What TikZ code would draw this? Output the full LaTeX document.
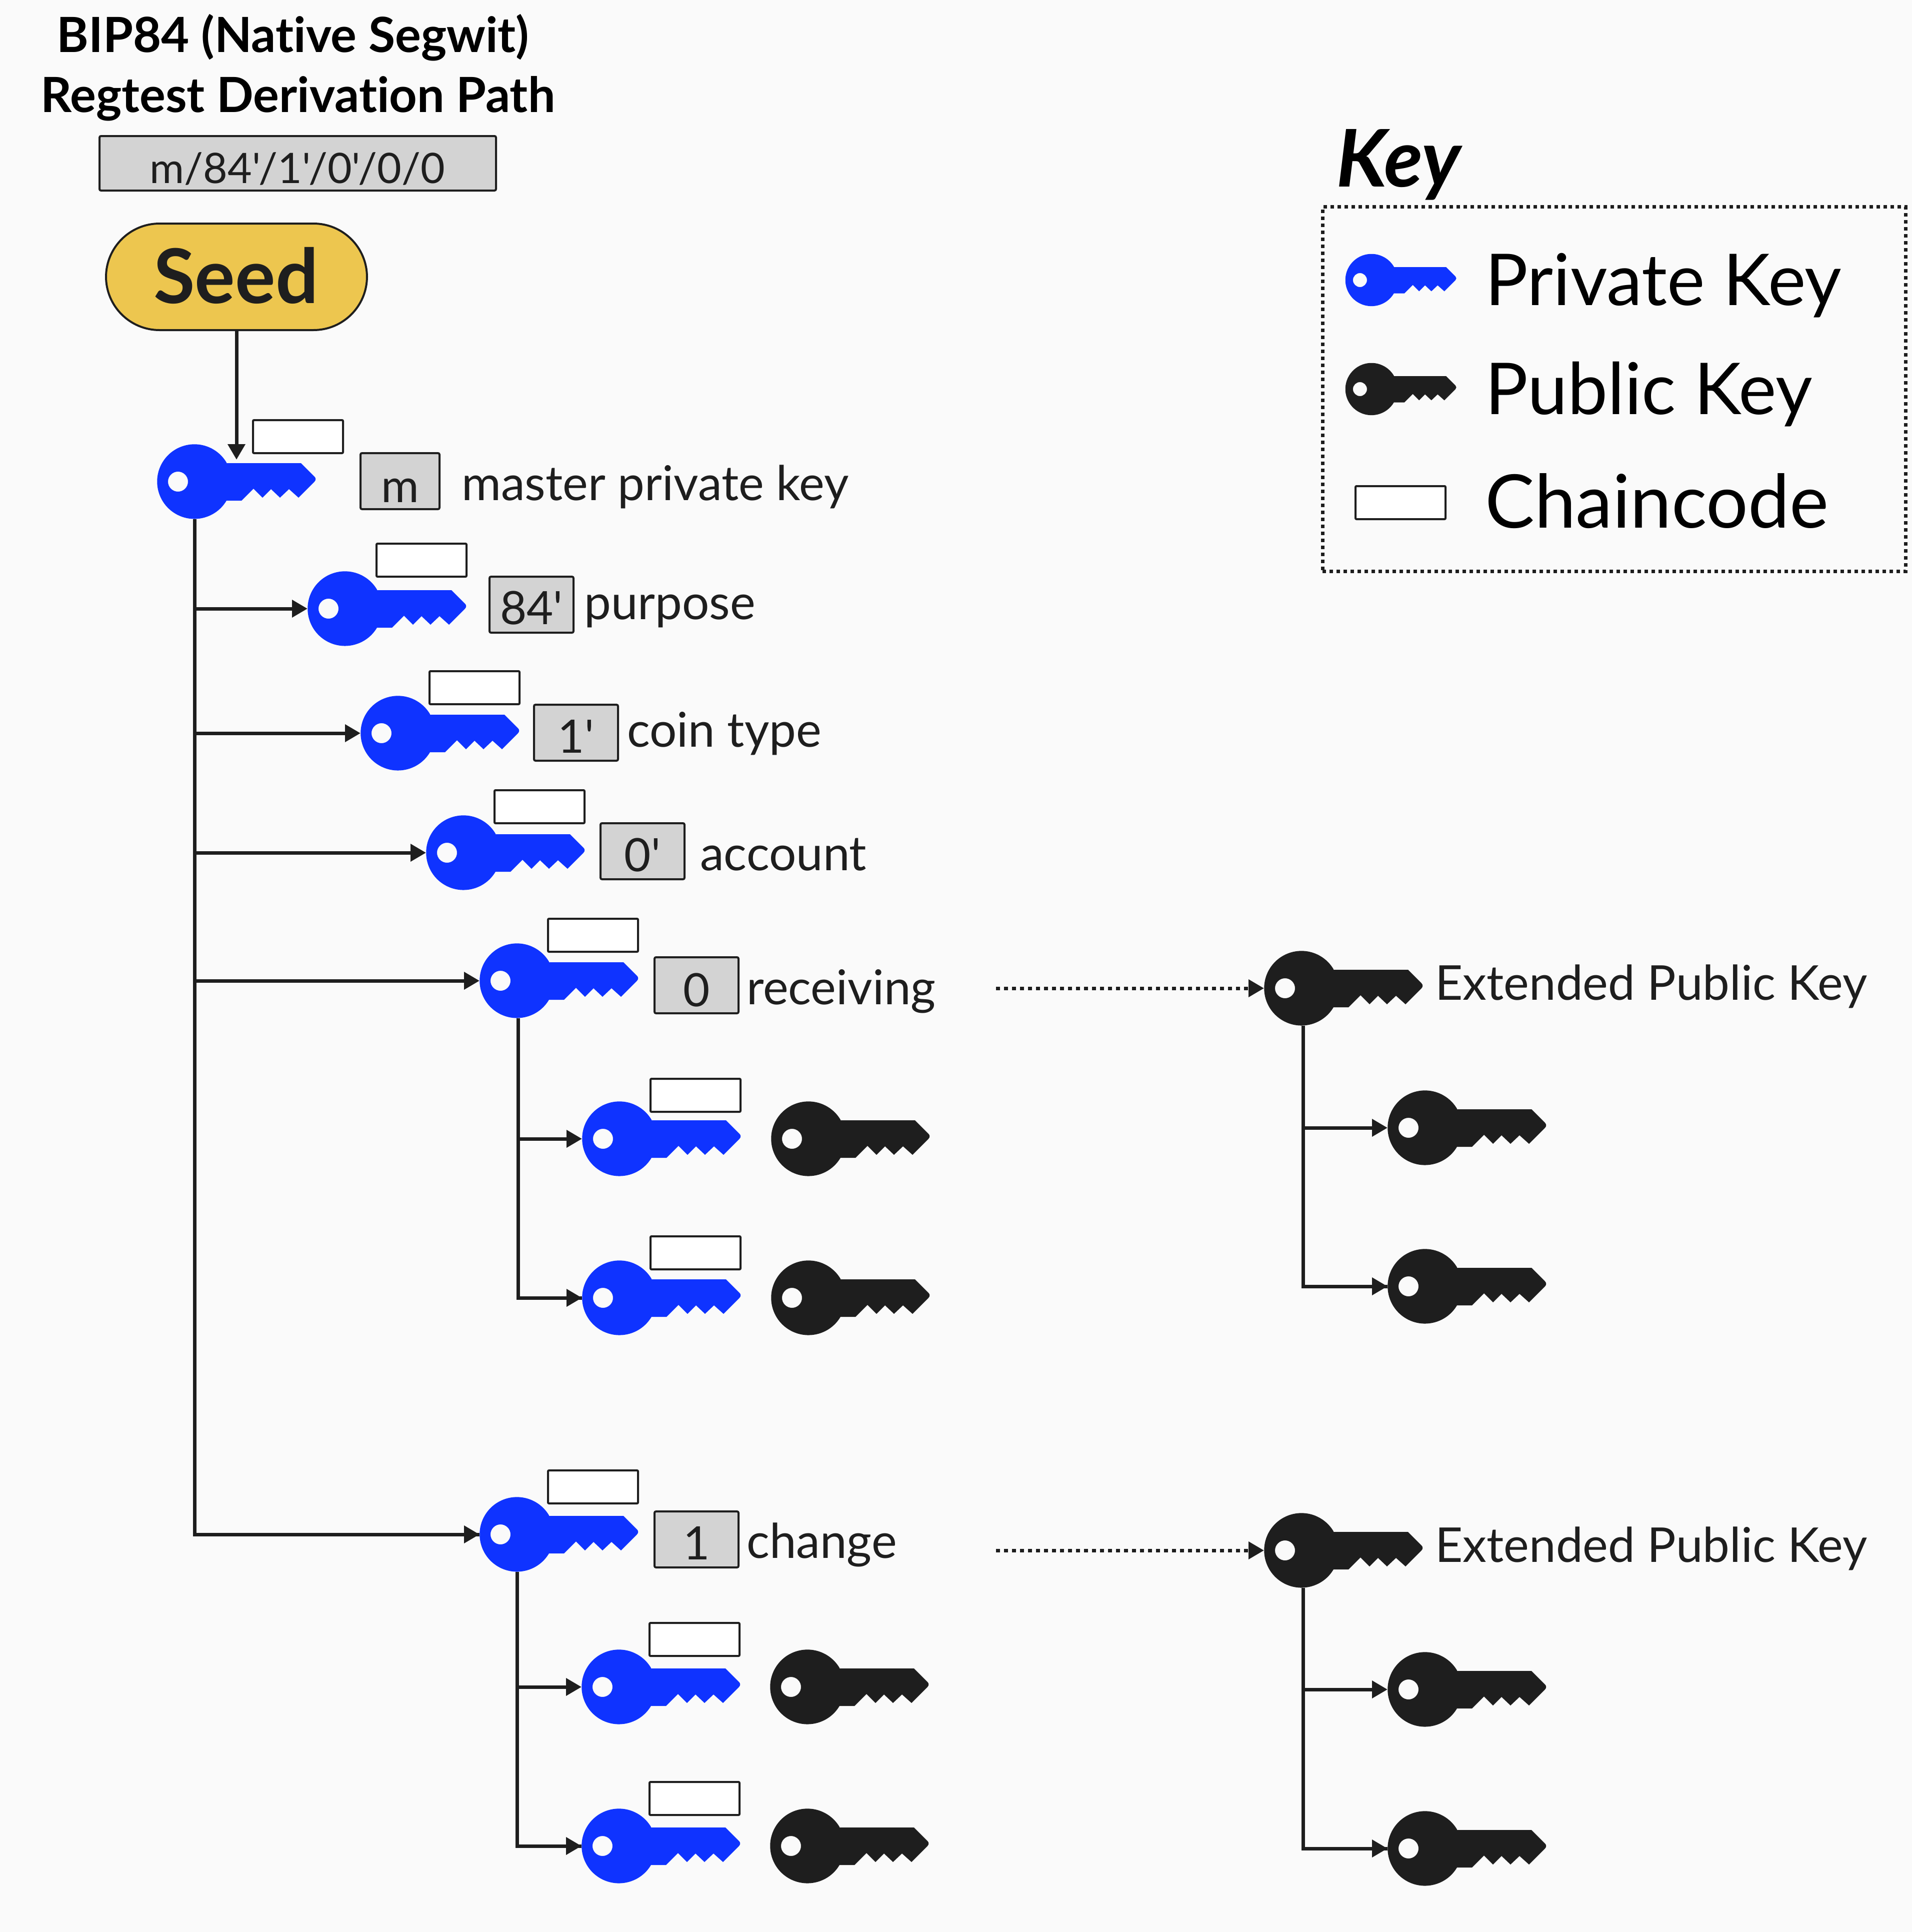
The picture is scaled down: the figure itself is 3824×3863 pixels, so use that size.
\documentclass[tikz,border=0pt]{standalone}
\usepackage{fontspec}
\setmainfont{Lato}[Ligatures={NoCommon,TeXOff}]
\usetikzlibrary{arrows.meta}
\definecolor{bgc}{HTML}{FAFAFA}
\definecolor{ink}{HTML}{1E1E1E}
\definecolor{privc}{HTML}{0F33FF}
\definecolor{grayc}{HTML}{D3D3D3}
\definecolor{seedc}{HTML}{EDC64F}
\newcommand{\fs}[1]{\fontsize{#1}{#1}\selectfont}
\tikzset{
  x=1pt,y=-1pt,
  keynode/.style={circle,inner sep=0pt,minimum size=150pt,outer sep=0pt},
  conn/.style={draw=ink,line width=7pt},
  arr/.style={conn,-{Triangle[length=31pt,width=34pt]}},
  dotarr/.style={draw=ink,line width=7pt,dash pattern=on 8pt off 8pt,-{Triangle[length=31pt,width=34pt]}},
  cc/.style={draw=ink,fill=white,line width=4pt,rounded corners=2pt,minimum width=180pt,minimum height=66pt,inner sep=0pt,outer sep=0pt},
  lab/.style={draw=ink,fill=grayc,line width=4pt,rounded corners=3pt,inner sep=0pt,outer sep=0pt,minimum height=112pt,text=ink},
  labt/.style={anchor=base,inner sep=0pt,text=ink,font=\fs{92}},
  txt/.style={anchor=base west,inner sep=0pt,text=ink,font=\fs{96}},
  legt/.style={anchor=base west,inner sep=0pt,text=black,font=\fs{143}},
  titlet/.style={anchor=base,inner sep=0pt,text=black,font=\bfseries\fs{97}},
}
% \keyicon{name}{x}{y}{scale}{colour}
\newcommand{\keyicon}[5]{%
  \node[keynode,minimum size=#4*150pt] (#1) at (#2,#3) {};
  \fill[#5,even odd rule,shift={(#2,#3)},scale=#4]
    (64,-37) -- (213,-37) -- (240,-10) .. controls (243,-7) and (243,-3) .. (240,0)
    -- (208,32) -- (189,15) -- (171,32) -- (153,15) -- (136,32) -- (118,14) -- (94,38) -- (64,38)
    arc[start angle=30.7,end angle=329.3,radius=74.6] -- cycle
    (-33,0) circle[radius=20];
}
\begin{document}
\begin{tikzpicture}
\useasboundingbox (0,0) rectangle (3824,3863);
\fill[bgc] (0,0) rectangle (3824,3863);
% title
\node[titlet] (t1) at (586,104) {BIP84 (Native Segwit)};
\node[titlet] (t2) at (596,224) {Regtest Derivation Path};
\node[lab,minimum width=793pt,minimum height=109pt] (path) at (595.5,326.5) {};
\node[anchor=base,inner sep=0pt,text=ink,font=\fs{84}] (pathtxt) at (595,366) {m/84'/1'/0'/0/0};
\node[draw=ink,fill=seedc,line width=4pt,rounded corners=107pt,minimum width=522pt,minimum height=213pt,inner sep=0pt,outer sep=0pt] (seed) at (473,553.5) {};
\node[anchor=base,inner sep=0pt,text=ink,font=\bfseries\fs{151}] (seedtxt) at (472,606) {Seed};
% keys
\keyicon{master}{389}{963}{1}{privc}
\keyicon{purpose}{690}{1217}{1}{privc}
\keyicon{coin}{796}{1466}{1}{privc}
\keyicon{account}{927}{1705}{1}{privc}
\keyicon{recv}{1034}{1961}{1}{privc}
\keyicon{ra}{1239}{2277}{1}{privc}
\keyicon{rb}{1239}{2595}{1}{privc}
\keyicon{rpa}{1617}{2277}{1}{ink}
\keyicon{rpb}{1617}{2595}{1}{ink}
\keyicon{chg}{1034}{3068}{1}{privc}
\keyicon{ca}{1238}{3373}{1}{privc}
\keyicon{cb}{1238}{3691}{1}{privc}
\keyicon{cpa}{1615}{3373}{1}{ink}
\keyicon{cpb}{1615}{3691}{1}{ink}
\keyicon{xr}{2603}{1976}{1}{ink}
\keyicon{xra}{2850}{2255}{1}{ink}
\keyicon{xrb}{2850}{2572}{1}{ink}
\keyicon{xc}{2603}{3100}{1}{ink}
\keyicon{xca}{2850}{3378}{1}{ink}
\keyicon{xcb}{2850}{3696}{1}{ink}
% chaincodes
\node[cc] (ccm) at (596,873) {};
\node[cc] (ccp) at (843,1120) {};
\node[cc] (ccc) at (949,1375) {};
\node[cc] (cca) at (1079,1613) {};
\node[cc] (ccr) at (1186,1870) {};
\node[cc] (ccra) at (1391,2190) {};
\node[cc] (ccrb) at (1391,2505) {};
\node[cc] (ccch) at (1186,2973) {};
\node[cc] (ccca) at (1389,3278) {};
\node[cc] (cccb) at (1389,3596) {};
% index labels
\node[lab,minimum width=158pt] (lm) at (800,962) {};
\node[lab,minimum width=168pt] (l84) at (1063,1209) {};
\node[lab,minimum width=168pt] (l1p) at (1152,1465) {};
\node[lab,minimum width=168pt] (l0p) at (1285,1702) {};
\node[lab,minimum width=168pt] (l0) at (1393,1970) {};
\node[lab,minimum width=168pt] (l1) at (1393,3078) {};
\node[labt] (lmt) at (800,1004) {m};
\node[labt] (l84t) at (1063,1248) {84'};
\node[labt] (l1pt) at (1152,1505) {1'};
\node[labt] (l0pt) at (1285,1742) {0'};
\node[labt] (l0t) at (1393,2012) {0};
\node[labt] (l1t) at (1393,3118) {1};
% labels
\node[txt] (tm) at (923,1000) {master private key};
\node[txt] (tp) at (1168,1238) {purpose};
\node[txt] (tc) at (1254,1493) {coin type};
\node[txt] (ta) at (1400,1740) {account};
\node[txt] (tr) at (1493,2008) {receiving};
\node[txt] (tch) at (1493,3115) {change};
\node[txt] (xl1) at (2870,1999) {Extended Public Key};
\node[txt] (xl2) at (2870,3123) {Extended Public Key};
% connectors
\draw[arr] (seed.south) -- (seed.south |- 0,919);
\draw[conn] (master.south) |- (chg.west);
\draw[arr] (master.south |- chg.west) -- (chg.west);
\draw[arr] (master.south |- purpose.west) -- (purpose.west);
\draw[arr] (master.south |- coin.west) -- (coin.west);
\draw[arr] (master.south |- account.west) -- (account.west);
\draw[arr] (master.south |- recv.west) -- (recv.west);
\draw[conn] ([xshift=2pt]recv.south) |- (rb.west);
\draw[arr] ([xshift=2pt]recv.south |- ra.west) -- (ra.west);
\draw[arr] ([xshift=2pt]recv.south |- rb.west) -- (rb.west);
\draw[conn] (chg.south) |- (cb.west);
\draw[arr] (chg.south |- ca.west) -- (ca.west);
\draw[arr] (chg.south |- cb.west) -- (cb.west);
\draw[conn] ([xshift=3pt]xr.south) |- (xrb.west);
\draw[arr] ([xshift=3pt]xr.south |- xra.west) -- (xra.west);
\draw[arr] ([xshift=3pt]xr.south |- xrb.west) -- (xrb.west);
\draw[conn] ([xshift=3pt]xc.south) |- (xcb.west);
\draw[arr] ([xshift=3pt]xc.south |- xca.west) -- (xca.west);
\draw[arr] ([xshift=3pt]xc.south |- xcb.west) -- (xcb.west);
\coordinate (dr) at (1992,1976);
\coordinate (dc) at (1992,3100);
\draw[dotarr] (dr) -- (xr.west);
\draw[dotarr] (dc) -- (xc.west);
% legend
\node[anchor=base west,inner sep=0pt,text=black,font=\bfseries\itshape\fs{159}] (keyt) at (2672,373) {Key};
\node[draw=ink,line width=7pt,dash pattern=on 7pt off 7pt,minimum width=1166pt,minimum height=729pt,inner sep=0pt,outer sep=0pt] (legend) at (3228,778) {};
\keyicon{lpriv}{2743}{560}{0.7}{privc}
\keyicon{lpub}{2743}{778}{0.7}{ink}
\node[cc] (lcc) at (2801,1005) {};
\node[legt] (lt1) at (2970,610) {Private Key};
\node[legt] (lt2) at (2970,828) {Public Key};
\node[legt,font=\fs{148}] (lt3) at (2970,1055) {Chaincode};
\end{tikzpicture}
\end{document}
